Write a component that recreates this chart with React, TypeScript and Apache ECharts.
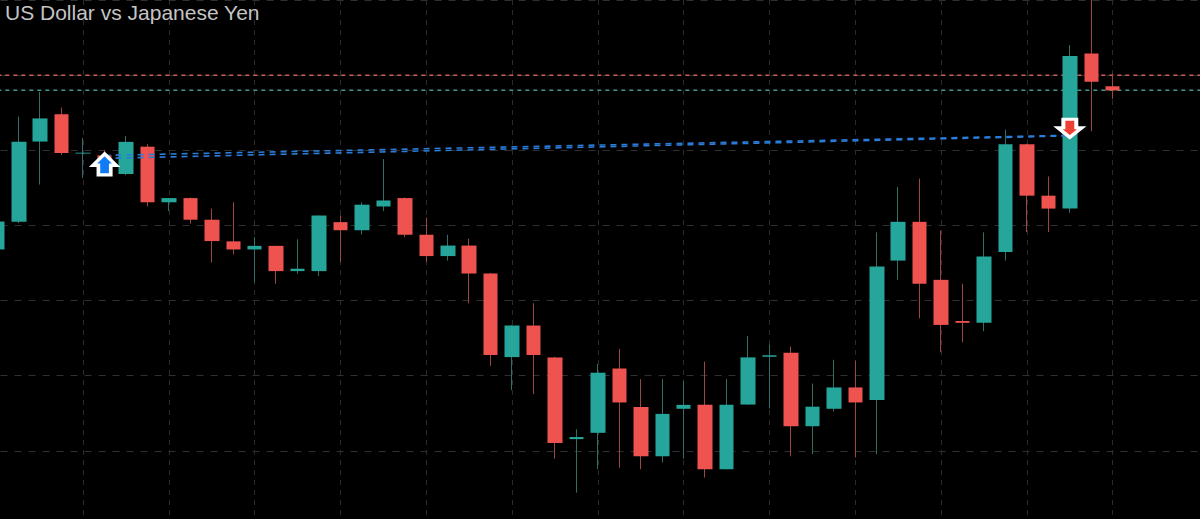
import React, { useEffect, useRef } from "react";
import * as echarts from "echarts";

const title = "US Dollar vs Japanese Yen";
const categories = Array.from({ length: 58 }, (_, i) => `D${i + 1}`);

const opens = [149.170,149.262,149.529,149.620,149.489,149.483,149.421,149.512,149.327,149.341,149.269,149.197,149.170,149.182,149.098,149.098,149.261,149.234,149.313,149.341,149.219,149.148,149.183,149.090,148.812,148.917,148.811,148.539,148.560,148.774,148.646,148.482,148.640,148.653,148.439,148.654,148.813,148.826,148.582,148.640,148.711,148.669,149.133,149.262,149.069,148.932,148.926,149.162,149.520,149.349,149.306,149.822,149.713];
const closes = [149.263,149.528,149.606,149.491,149.492,149.423,149.528,149.327,149.341,149.269,149.198,149.170,149.182,149.098,149.106,149.283,149.234,149.319,149.333,149.219,149.148,149.183,149.090,148.819,148.917,148.819,148.526,148.546,148.760,148.661,148.482,148.623,148.653,148.439,148.653,148.811,148.818,148.582,148.647,148.711,148.661,149.113,149.262,149.056,148.919,148.926,149.147,149.520,149.349,149.306,149.814,149.728,149.699];
const lows = [149.170,149.258,149.386,149.484,149.408,149.417,149.417,149.313,149.298,149.256,149.127,149.153,149.061,149.056,149.089,149.082,149.128,149.220,149.298,149.211,149.128,149.133,148.991,148.783,148.702,148.689,148.474,148.361,148.439,148.444,148.439,148.461,148.474,148.411,148.438,148.653,148.641,148.482,148.489,148.631,148.478,148.489,149.069,148.941,148.828,148.861,148.898,149.133,149.228,149.228,149.292,149.563,149.671];
const highs = [149.263,149.612,149.694,149.642,149.541,149.500,149.548,149.520,149.341,149.343,149.306,149.327,149.211,149.182,149.204,149.283,149.283,149.327,149.471,149.343,149.276,149.219,149.206,149.092,148.918,148.991,148.813,148.572,148.789,148.839,148.739,148.739,148.733,148.797,148.739,148.882,148.853,148.847,148.724,148.803,148.800,149.227,149.378,149.406,149.233,149.056,149.227,149.569,149.522,149.413,149.850,150.000,149.756];

const askLine = 149.75;
const bidLine = 149.70;
const trendUpper = [[5, 149.483], [50, 149.55]];
const trendLower = [[5, 149.473], [50, 149.548]];
const buyMarker = [[5, 149.453]];
const sellMarker = [[50, 149.573]];

const UP = "#26a69a";
const DOWN = "#ef5350";
const ARROW = "path://M13 0 L26 14 L20 14 L20 26 L6 26 L6 14 L0 14 Z";

export default function App() {
  const ref = useRef<HTMLDivElement>(null);
  useEffect(() => {
    document.body.style.margin = "0";
    document.body.style.background = "#000";
    const chart = echarts.init(ref.current!, null, { renderer: "svg" });
    const wickData = opens.map((o, i) => [o, closes[i], lows[i], highs[i]]);
    const bodyData = opens.map((o, i) => [
      o,
      closes[i],
      Math.min(o, closes[i]),
      Math.max(o, closes[i]),
    ]);
    const level = (v: number) => [
      [0, v],
      [57, v],
    ];
    const dashedLevel = (v: number, color: string) => ({
      type: "line",
      z: 1,
      data: level(v),
      showSymbol: false,
      silent: true,
      lineStyle: { color, width: 1.5, type: [4, 4] as any },
    });
    const trend = (data: number[][]) => ({
      type: "line",
      z: 4,
      data,
      showSymbol: false,
      silent: true,
      lineStyle: { color: "#2a7cd8", width: 1.6, type: [6, 5] as any },
    });
    const marker = (data: number[][], fill: string, rotate: number, size: number[]) => ({
      type: "scatter",
      z: 5,
      data,
      symbol: ARROW,
      symbolSize: size,
      symbolRotate: rotate,
      silent: true,
      itemStyle: { color: fill, borderColor: "#ffffff", borderWidth: 3.5, opacity: 1 },
    });
    chart.setOption({
      animation: false,
      backgroundColor: "#000000",
      title: {
        text: title,
        left: 25,
        top: 2,
        padding: 0,
        textStyle: {
          color: "#c4c4c4",
          fontSize: 21,
          fontWeight: "normal",
          fontFamily: "Liberation Sans, Arial, sans-serif",
        },
      },
      grid: { left: 6.6, top: 0, width: 58 * 21.45, height: 526 },
      xAxis: {
        type: "category",
        data: categories,
        boundaryGap: true,
        axisLine: { show: false },
        axisTick: { show: false },
        axisLabel: { show: false },
        splitLine: {
          show: true,
          alignWithLabel: true,
          interval: (i: number) => i % 4 === 0 && i < 56,
          lineStyle: { color: "#2b2b2b", width: 1, type: [5, 5] as any },
        },
      },
      yAxis: {
        type: "value",
        min: 148.25,
        max: 150,
        interval: 0.25,
        axisLine: { show: false },
        axisTick: { show: false },
        axisLabel: { show: false },
        splitLine: {
          show: true,
          lineStyle: { color: "#2f2f2f", width: 1, type: [7, 7] as any },
        },
      },
      series: [
        dashedLevel(askLine, "#c9605c"),
        dashedLevel(bidLine, "#3f9a8f"),
        {
          type: "candlestick",
          z: 2,
          barWidth: 1,
          data: wickData,
          silent: true,
          itemStyle: {
            color: "#2f6f68",
            color0: "#9c4543",
            borderColor: "#2f6f68",
            borderColor0: "#9c4543",
            borderWidth: 1,
          },
        },
        {
          type: "candlestick",
          z: 3,
          barWidth: 15,
          data: bodyData,
          silent: true,
          itemStyle: {
            color: UP,
            color0: DOWN,
            borderColor: UP,
            borderColor0: DOWN,
            borderWidth: 0,
          },
        },
        trend(trendUpper),
        trend(trendLower),
        marker(buyMarker, "#0f7bf5", 0, [23, 21]),
        marker(sellMarker, "#ef3f34", 180, [24, 18]),
      ],
    });
    return () => chart.dispose();
  }, []);
  return (
    <div style={{ position: "relative", width: 1200, height: 519, overflow: "hidden", background: "#000" }}>
      <div ref={ref} style={{ position: "absolute", left: -20, top: 0, width: 1280, height: 526 }} />
    </div>
  );
}
